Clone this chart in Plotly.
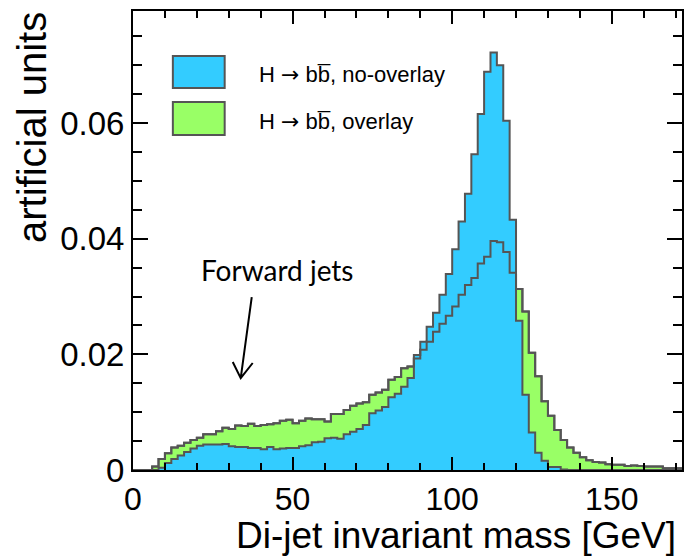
import plotly.graph_objects as go

# Bin edges: 2 GeV bins from 0 to 172 GeV
bin_width = 2
n_bins = 86
edges = [i * bin_width for i in range(n_bins + 1)]

# H -> bb, no-overlay (blue)
no_overlay = [
    0, 0, 0, 0, 0.0004, 0.0012, 0.0019, 0.0025, 0.0031, 0.0037,      # 0-20
    0.0042, 0.0044, 0.0044, 0.0044, 0.0045, 0.0041, 0.0040, 0.0040, 0.0038, 0.0038,  # 20-40
    0.0036, 0.0040, 0.0036, 0.0037, 0.0038, 0.0038, 0.0041, 0.0043, 0.0048, 0.0049,  # 40-60
    0.0055, 0.0056, 0.0054, 0.0062, 0.0066, 0.0071, 0.0078, 0.0098, 0.0103, 0.0109,  # 60-80
    0.0126, 0.0132, 0.0144, 0.0159, 0.0199, 0.0222, 0.0248, 0.0272, 0.0303, 0.0339,  # 80-100
    0.0382, 0.0430, 0.0478, 0.0546, 0.0616, 0.0689, 0.0722, 0.0700, 0.0604, 0.0433,  # 100-120
    0.0258, 0.0130, 0.0065, 0.0030, 0.0016, 0.0005, 0.0005, 0.0001, 0, 0,            # 120-140
    0, 0, 0, 0, 0, 0, 0, 0, 0, 0,                                                      # 140-160
    0, 0, 0, 0, 0, 0,                                                                  # 160-172
]

# H -> bb, overlay (green)
overlay = [
    0, 0, 0, 0.0006, 0.0019, 0.0029, 0.0039, 0.0042, 0.0047, 0.0052,      # 0-20
    0.0056, 0.0062, 0.0062, 0.0067, 0.0073, 0.0071, 0.0077, 0.0076, 0.0080, 0.0076,  # 20-40
    0.0078, 0.0079, 0.0081, 0.0085, 0.0087, 0.0081, 0.0085, 0.0089, 0.0088, 0.0088,  # 40-60
    0.0084, 0.0097, 0.0097, 0.0104, 0.0111, 0.0115, 0.0117, 0.0130, 0.0134, 0.0139,  # 60-80
    0.0156, 0.0161, 0.0176, 0.0179, 0.0193, 0.0208, 0.0222, 0.0239, 0.0253, 0.0267,  # 80-100
    0.0283, 0.0303, 0.0320, 0.0332, 0.0357, 0.0369, 0.0396, 0.0394, 0.0377, 0.0341,  # 100-120
    0.0313, 0.0274, 0.0203, 0.0162, 0.0119, 0.0094, 0.0069, 0.0052, 0.0039, 0.0030,  # 120-140
    0.0022, 0.0017, 0.0014, 0.0013, 0.0010, 0.0009, 0.0009, 0.0007, 0.0008, 0.0007,  # 140-160
    0.0006, 0.0006, 0.0006, 0.0003, 0.0003, 0.0003,                                  # 160-172
]

x_ticks = [0, 50, 100, 150]
x_tick_labels = ["0", "50", "100", "150"]
y_ticks = [0, 0.02, 0.04, 0.06]
y_tick_labels = ["0", "0.02", "0.04", "0.06"]

ARROW = "<span style='font-family:DejaVu Sans'>\u2192</span>"
label_no_overlay = "H " + ARROW + " bb\u0305, no-overlay"
label_overlay = "H " + ARROW + " bb\u0305, overlay"

BLUE = "#33CCFF"
GREEN = "#99FF66"
EDGE = "#555555"
FONT = "Liberation Sans, Arial, sans-serif"

def step_y(vals):
    return list(vals) + [vals[-1]]

fig = go.Figure()
# green fill + outline
fig.add_trace(go.Scatter(x=edges, y=step_y(overlay), mode="lines", line_shape="hv",
                         line=dict(color=EDGE, width=2), fill="tozeroy", fillcolor=GREEN,
                         name="overlay", showlegend=False))
# blue fill + outline
fig.add_trace(go.Scatter(x=edges, y=step_y(no_overlay), mode="lines", line_shape="hv",
                         line=dict(color=EDGE, width=2), fill="tozeroy", fillcolor=BLUE,
                         name="no-overlay", showlegend=False))
# green outline on top
fig.add_trace(go.Scatter(x=edges, y=step_y(overlay), mode="lines", line_shape="hv",
                         line=dict(color=EDGE, width=2), showlegend=False, hoverinfo="skip"))

axis_common = dict(showline=True, linecolor="black", linewidth=2, mirror="allticks",
                   ticks="inside", tickcolor="black", tickwidth=2, showgrid=False,
                   zeroline=False)

fig.update_xaxes(range=[0, 172], tickvals=x_ticks, ticktext=x_tick_labels, ticklen=13,
                 tickfont=dict(family=FONT, size=32, color="black"),
                 minor=dict(dtick=10, tick0=0, ticks="inside", ticklen=7, tickcolor="black",
                            tickwidth=2, showgrid=False),
                 **axis_common)
fig.update_yaxes(range=[0, 0.0794], tickvals=y_ticks, ticktext=y_tick_labels, ticklen=15,
                 tickfont=dict(family=FONT, size=33, color="black"),
                 minor=dict(dtick=0.005, tick0=0, ticks="inside", ticklen=9, tickcolor="black",
                            tickwidth=2, showgrid=False),
                 **axis_common)

annotations = [
    dict(text="Di-jet invariant mass [GeV]", xref="paper", yref="paper", x=0.9927, y=-0.1425,
         xanchor="right", yanchor="middle", showarrow=False,
         font=dict(family=FONT, size=37, color="black")),
    dict(text="artificial units", xref="paper", yref="paper", x=-0.1842, y=0.747,
         xanchor="center", yanchor="middle", textangle=-90, showarrow=False,
         font=dict(family=FONT, size=40, color="black")),
    dict(text=label_no_overlay, xref="paper", yref="paper", x=0.225, y=0.8627,
         xanchor="left", yanchor="middle", showarrow=False,
         font=dict(family=FONT, size=22, color="black")),
    dict(text=label_overlay, xref="paper", yref="paper", x=0.225, y=0.7603,
         xanchor="left", yanchor="middle", showarrow=False,
         font=dict(family=FONT, size=22, color="black")),
    dict(text="Forward jets", xref="x", yref="y", x=45.3, y=0.0346,
         xanchor="center", yanchor="middle", showarrow=False,
         font=dict(family="Lato, sans-serif", size=28, color="black")),
]

shapes = [
    dict(type="rect", xref="paper", yref="paper", x0=0.0726, x1=0.167, y0=0.8322, y1=0.902,
         fillcolor=BLUE, line=dict(color=EDGE, width=2)),
    dict(type="rect", xref="paper", yref="paper", x0=0.0726, x1=0.167, y0=0.7298, y1=0.8017,
         fillcolor=GREEN, line=dict(color=EDGE, width=2)),
    # arrow for "Forward jets"
    dict(type="path", xref="x", yref="y",
         path="M 37.2,0.0299 L 33.75,0.0159 M 31.25,0.01869 L 33.75,0.0159 L 37.5,0.01851",
         line=dict(color="black", width=2)),
]

fig.update_layout(width=685, height=557, margin=dict(l=133, r=1, t=11, b=87),
                  paper_bgcolor="white", plot_bgcolor="white",
                  annotations=annotations, shapes=shapes, showlegend=False)

fig.write_html("out.html")
